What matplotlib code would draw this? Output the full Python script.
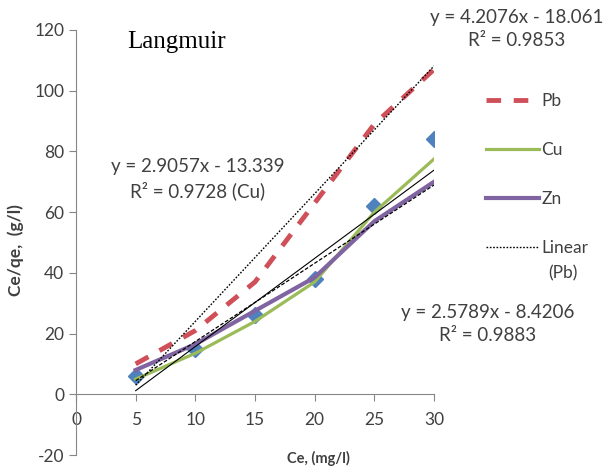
import numpy as np
import matplotlib
matplotlib.use('Agg')
from matplotlib import pyplot as plt
from matplotlib.lines import Line2D

# values
ce = [5, 10, 15, 20, 25, 30]
pb = [10, 21, 37, 63, 89, 107]
cu = [5, 13.5, 24, 37, 60, 77.5]
zn = [8, 16.5, 27.5, 38.5, 57, 70]
diamonds = [6, 15, 26, 38, 62, 84]

# trendline coefficients (slope, intercept) as printed on the chart
pb_fit = (4.2076, -18.061)
cu_fit = (2.9057, -13.339)
zn_fit = (2.5789, -8.4206)

W, H = 611, 472
fig = plt.figure(figsize=(W / 100, H / 100), dpi=100)
plt.rcParams['font.family'] = ['Lato', 'DejaVu Sans']
plt.rcParams['axes.unicode_minus'] = False
txt = '#404040'
axc = '#868686'

ax = fig.add_axes([76 / W, 1 - 455 / H, (434 - 76) / W, (455 - 30) / H])
ax.set_xlim(0, 30)
ax.set_ylim(-20, 120)

xf = np.array([5, 30])
ax.plot(ce, diamonds, ls='none', marker='D', ms=8.5, color='#4F81BD', zorder=2)
ax.plot(ce, pb, color='#D0505A', lw=3.5, dashes=(3, 2.6), zorder=3)
ax.plot(ce, cu, color='#9BBB59', lw=2.3, zorder=3)
ax.plot(ce, zn, color='#8064A2', lw=3, zorder=3)
ax.plot(xf, pb_fit[0] * xf + pb_fit[1], color='black', lw=1, dashes=(1.2, 1.2), zorder=4)
ax.plot(xf, cu_fit[0] * xf + cu_fit[1], color='black', lw=0.8, zorder=4)
ax.plot(xf, zn_fit[0] * xf + zn_fit[1], color='black', lw=0.9, dashes=(3, 1.5), zorder=4)

for s in ['top', 'right']:
    ax.spines[s].set_visible(False)
ax.spines['bottom'].set_position(('data', 0))
for s in ['left', 'bottom']:
    ax.spines[s].set_color(axc)
ax.set_xticks(range(0, 31, 5))
ax.set_yticks(range(-20, 121, 20))
ax.tick_params(colors=axc, labelcolor=txt, labelsize=12.5, length=5)
ax.tick_params(axis='x', pad=8)

ax.set_ylabel('Ce/qe,  (g/l)', fontsize=12.5, fontweight='bold', color=txt)
ax.yaxis.set_label_coords((24 - 76) / 358, (455 - 250) / 425)
ax.set_xlabel('Ce, (mg/l)', fontsize=10.5, fontweight='bold', color=txt)
ax.xaxis.set_label_coords((318 - 76) / 358, (455 - 451) / 425)

fig.text(177 / W, 1 - 42 / H, 'Langmuir', family='Liberation Serif', fontsize=18,
         ha='center', va='center', color='black')

eq_kw = dict(fontsize=13.5, ha='center', va='center', color=txt, linespacing=1.4)
fig.text(198 / W, 1 - 179 / H, 'y = 2.9057x - 13.339\nR² = 0.9728 (Cu)', **eq_kw)
fig.text(517 / W, 1 - 29 / H, 'y = 4.2076x - 18.061\nR² = 0.9853', **eq_kw)
fig.text(488 / W, 1 - 324 / H, 'y = 2.5789x - 8.4206\nR² = 0.9883', **eq_kw)

handles = [
    Line2D([], [], color='#D0505A', lw=3.5, dashes=(3, 2.6)),
    Line2D([], [], color='#9BBB59', lw=2.3),
    Line2D([], [], color='#8064A2', lw=3),
    Line2D([], [], color='black', lw=1, dashes=(1.2, 1.2)),
]
fig.legend(handles, ['Pb', 'Cu', 'Zn', 'Linear'], loc='upper left',
           bbox_to_anchor=(470 / W, 1 - 77 / H), frameon=False, fontsize=12.5,
           labelcolor=txt, handlelength=3.1, handletextpad=0.1, labelspacing=1.9)
fig.text(563 / W, 1 - 273 / H, '(Pb)', fontsize=12.5, ha='center', va='center', color=txt)

fig.savefig('out.png', dpi=100)
